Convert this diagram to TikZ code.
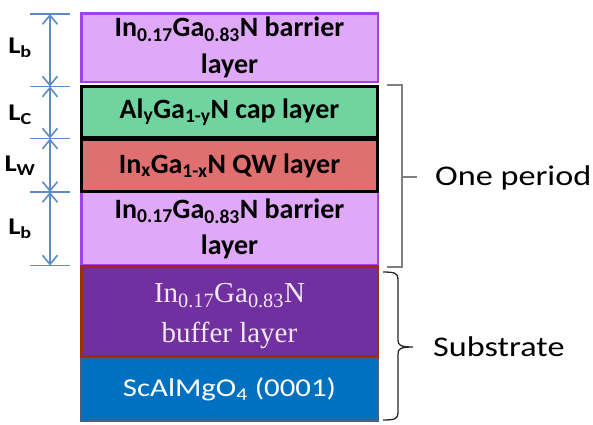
\documentclass[tikz,border=0pt]{standalone}
\usepackage{fontspec}
\setmainfont{Carlito}
\newfontfamily\widesans[FakeStretch=1.2]{Carlito}
\newfontfamily\bufserif{Liberation Serif}
\usetikzlibrary{arrows.meta}

\definecolor{barfill}{HTML}{E0A8F8}
\definecolor{barline}{HTML}{A040F0}
\definecolor{capfill}{HTML}{70D4A0}
\definecolor{qwfill}{HTML}{E07070}
\definecolor{buffill}{HTML}{7030A0}
\definecolor{bufline}{HTML}{A02C10}
\definecolor{subfill}{HTML}{0070C0}
\definecolor{subline}{HTML}{41618A}
\definecolor{dimblue}{HTML}{5B8CC8}
\definecolor{brgray}{HTML}{7F7F7F}
\definecolor{buftext}{HTML}{F4E8F4}

\newcommand\lowidx[1]{\textsubscript{#1}}

\tikzset{
  layer/.style={minimum width=296.5pt, inner sep=0pt, align=center,
    font=\fontsize{28}{36.6}\selectfont\bfseries},
  barrier/.style={layer, draw=barline, fill=barfill, line width=2.5pt},
  blackbox/.style={layer, draw=black, line width=3pt},
  dimtick/.style={draw=dimblue, line width=1.6pt},
  dimarrow/.style={draw=dimblue, line width=1.6pt,
    {Straight Barb[length=9pt,width=15pt,line width=1.6pt]}-{Straight Barb[length=9pt,width=15pt,line width=1.6pt]}},
  dimlabel/.style={font=\fontsize{24}{24}\selectfont\widesans\bfseries, inner sep=0pt},
  sidetext/.style={anchor=west, inner sep=0pt, font=\fontsize{28.5}{28.5}\selectfont\widesans},
}

\begin{document}
\begin{tikzpicture}[x=1pt,y=-1pt]
\useasboundingbox (0,0) rectangle (593,424);

% layer stack, drawn so the black and brown borders lie on top
\node[barrier, minimum height=68.5pt] (tb) at (229.5,47.5)
  {In\lowidx{0.17}Ga\lowidx{0.83}N barrier\\layer};
\node[barrier, minimum height=73.5pt] (lb) at (229.5,228.75)
  {In\lowidx{0.17}Ga\lowidx{0.83}N barrier\\layer};
\node[blackbox, fill=capfill, minimum height=51pt] (cap) at (229.5,112)
  {Al\lowidx{y}Ga\lowidx{1-y}N cap layer};
\node[blackbox, fill=qwfill, minimum height=52pt] (qw) at (229.5,165.5)
  {In\lowidx{x}Ga\lowidx{1-x}N QW layer};
\node[layer, draw=subline, fill=subfill, line width=2pt, minimum height=63pt,
  text=white, font=\fontsize{25.7}{30}\selectfont\widesans] (sub) at (229.5,389.5)
  {ScAlMgO\lowidx{4} (0001)};
\node[layer, draw=bufline, fill=buffill, line width=2.5pt, minimum height=90pt]
  (buf) at (229.5,311.5) {};
\node[align=center, inner sep=0pt, text=buftext,
  font=\fontsize{29}{40}\selectfont\bufserif] (buflabel) at (229.5,315.8)
  {In\lowidx{0.17}Ga\lowidx{0.83}N\\buffer layer};

% thickness markers on the left
\foreach \n/\y in {t0/14, t1/86.5, t2/138.5, t3/192, t4/265.5} {
  \coordinate (\n l) at (30,\y);
  \coordinate (\n r) at (70,\y);
  \coordinate (\n) at (50,\y);
  \draw[dimtick] (\n l) -- (\n r);
}
\draw[dimarrow] (t0) -- (t1);
\draw[dimarrow] (t1) -- (t2);
\draw[dimarrow] (t2) -- (t3);
\draw[dimarrow] (t3) -- (t4);

\node[dimlabel] (lbtop) at (20,48) {L\lowidx{b}};
\node[dimlabel] (lcap) at (20,115) {L\lowidx{C}};
\node[dimlabel] (lqw) at (20,166) {L\lowidx{W}};
\node[dimlabel] (lbbot) at (20,229) {L\lowidx{b}};

% bracket for the repeated period
\coordinate (pa) at (387,85);
\coordinate (pb) at (402,85);
\coordinate (pc) at (402,267);
\coordinate (pd) at (387,267);
\coordinate (pm) at (402,177);
\coordinate (pt) at (417,177);
\draw[brgray, line width=1.4pt] (pa) -- (pb) -- (pc) -- (pd);
\draw[brgray, line width=1.4pt] (pm) -- (pt);
\node[sidetext] (period) at (435,178) {One period};

% curly brace for the substrate
\coordinate (sa) at (383,272);
\coordinate (sm) at (398,347);
\coordinate (st) at (413,347);
\coordinate (sb) at (383,420);
\draw[black!85, line width=1.3pt]
  (sa) .. controls (394,272) and (398,273) .. (398,279)
  -- (398,340) .. controls (398,345) and (400,347) .. (st)
  (st) .. controls (400,347) and (398,349) .. (398,354)
  -- (398,413) .. controls (398,419) and (394,420) .. (sb);
\node[sidetext] (substr) at (433,347) {Substrate};
\end{tikzpicture}
\end{document}
